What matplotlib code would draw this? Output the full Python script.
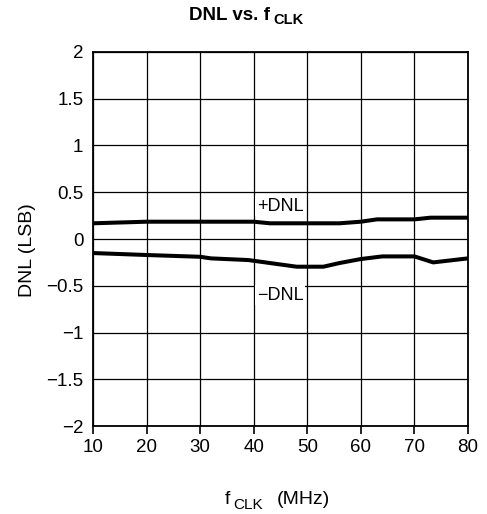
import matplotlib
matplotlib.use("Agg")
import matplotlib.pyplot as plt
import numpy as np

plt.rcParams['font.family'] = ['Liberation Sans', 'DejaVu Sans']

# values
f_pos = [10, 20, 30, 40, 43, 50, 56, 60, 63, 70, 73, 80]
dnl_pos = [0.168, 0.185, 0.185, 0.185, 0.168, 0.168, 0.168, 0.185, 0.21, 0.21, 0.228, 0.228]

f_neg = [10, 20, 30, 32, 39, 48, 53, 56, 60, 64, 70, 73.5, 80]
dnl_neg = [-0.15, -0.171, -0.19, -0.207, -0.225, -0.296, -0.296, -0.257, -0.214, -0.186, -0.186, -0.25, -0.207]

x_ticks = [10, 20, 30, 40, 50, 60, 70, 80]
y_ticks = [-2, -1.5, -1, -0.5, 0, 0.5, 1, 1.5, 2]
y_tick_labels = ["\u22122", "\u22121.5", "\u22121", "\u22120.5", "0", "0.5", "1", "1.5", "2"]

fig = plt.figure(figsize=(4.87, 5.14), dpi=100)
ax = fig.add_axes([0.191, 0.171, 0.770, 0.728])

ax.plot(f_pos, dnl_pos, color='black', lw=2.9, solid_joinstyle='round')
ax.plot(f_neg, dnl_neg, color='black', lw=2.9, solid_joinstyle='round')

ax.set_xlim(10, 80)
ax.set_ylim(-2, 2)
ax.set_xticks(x_ticks)
ax.set_yticks(y_ticks)
ax.set_yticklabels(y_tick_labels)
ax.grid(True, color='black', lw=0.9)
ax.set_axisbelow(True)
for s in ax.spines.values():
    s.set_linewidth(1.3)

ax.tick_params(axis='x', direction='out', length=6, width=1.2, pad=3, labelsize=13.5)
ax.tick_params(axis='y', length=0, pad=7, labelsize=13.5)

ax.text(44.9, 0.35, "+DNL", ha='center', va='center', fontsize=13,
        bbox=dict(facecolor='white', edgecolor='none', pad=1))
ax.text(44.9, -0.6, "\u2212DNL", ha='center', va='center', fontsize=13,
        bbox=dict(facecolor='white', edgecolor='none', pad=1))

# title with subscript
fig.text(270 / 487, 1 - 20 / 514, "DNL vs. f", ha='right', va='baseline',
         fontsize=13.5, fontweight='bold')
fig.text(273 / 487, 1 - 24 / 514, "CLK", ha='left', va='baseline',
         fontsize=10.5, fontweight='bold')

# x label with subscript
fig.text(230 / 487, 1 - 504 / 514, "f", ha='right', va='baseline', fontsize=14)
fig.text(233 / 487, 1 - 509 / 514, "CLK", ha='left', va='baseline', fontsize=11)
fig.text(277 / 487, 1 - 504 / 514, "(MHz)", ha='left', va='baseline', fontsize=14)

ax.set_ylabel("DNL (LSB)", fontsize=14)
ax.yaxis.set_label_coords(-0.152, 0.47)

fig.savefig("out.png", dpi=100)
